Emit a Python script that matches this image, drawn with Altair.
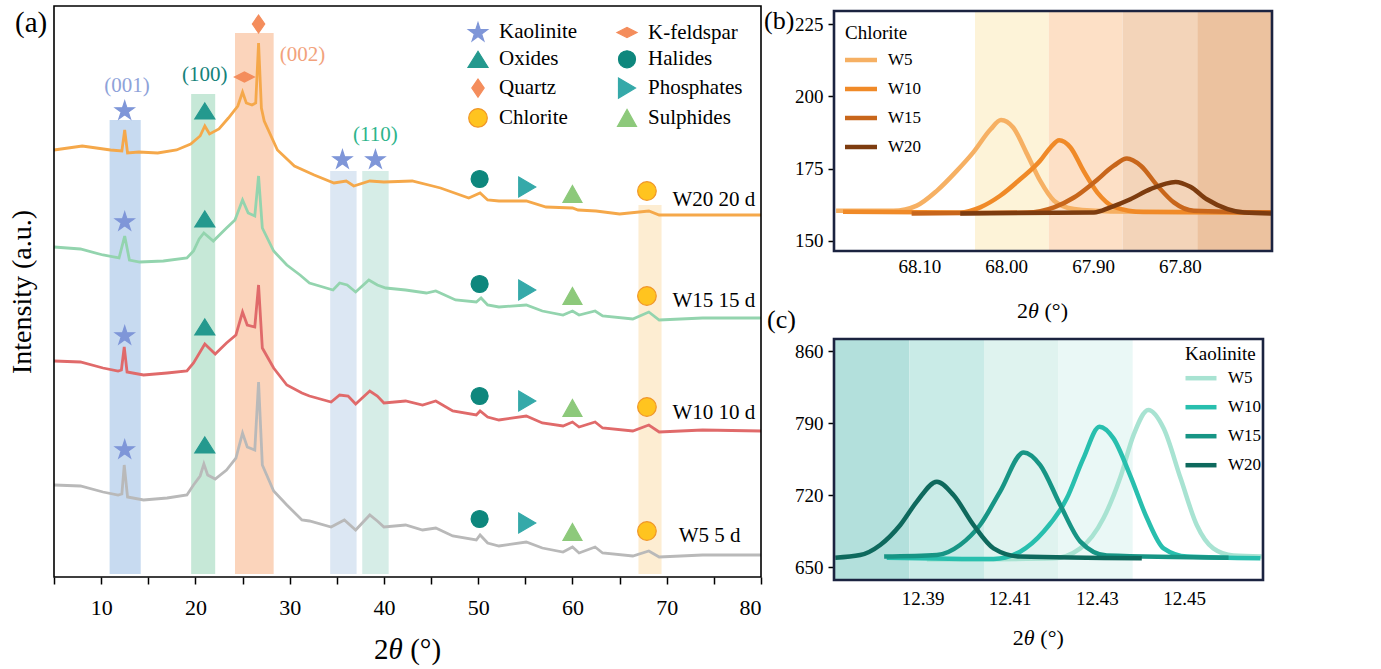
import altair as alt
import pandas as pd

SERIF = "Liberation Serif"
ONE = pd.DataFrame({"k": [0]})

# ---------------- (a) XRD patterns, offset intensity in a.u. ----------------
w20_x = [5, 6.5, 8, 9.5, 11, 12.2, 12.5, 12.8, 14, 16, 18, 19.5, 20.5, 21, 21.5, 22.5, 23.5, 24.5, 25.0, 25.4,
         26.0, 26.4, 26.7, 27.0, 27.3, 28.7, 30.5, 32.6, 34.7, 36.0, 36.8, 38.5, 40, 43, 46, 49, 50.2, 51, 52.2,
         55.1, 57.2, 60, 60.6, 62.5, 65, 68.1, 69.2, 73.1, 80]
w20_y = [427, 429, 431, 429, 427, 426, 447, 424, 425, 424, 427, 433, 441, 451, 443, 448, 459, 471, 485, 474,
         472, 474, 534, 469, 456, 427, 411, 402, 394, 396, 391, 396, 395, 396, 389, 379, 384, 377, 376,
         376, 370, 369, 367, 366, 363, 366, 362, 362, 362]

w15_x = [5, 7.8, 10.2, 11.9, 12.5, 13.0, 14.1, 16.6, 19.1, 19.8, 20.4, 20.9, 21.9, 23.3, 24.2, 25.0, 25.6, 26.3,
         26.7, 27.1, 28.3, 29.7, 31.1, 32.1, 34.6, 35.3, 36.1, 37.0, 38.4, 39.3, 40.2, 42.3, 44.5, 45.5, 47.6,
         49.8, 50.3, 51, 52.2, 55.1, 56.8, 59.0, 60, 60.7, 62.4, 63.2, 66.4, 68.1, 69.2, 73.8, 80]
w15_y = [330, 328, 322, 319, 341, 317, 315, 316, 319, 326, 338, 344, 336, 349, 357, 377, 364, 361,
         401, 349, 326, 312, 302, 294, 287, 294, 292, 285, 297, 292, 289, 287, 284, 286, 277,
         275, 279, 272, 270, 272, 266, 262, 266, 262, 266, 261, 258, 265, 257, 259, 259]

w10_x = [5, 7.8, 10.2, 11.8, 12.15, 12.45, 12.75, 14.5, 17, 19.1, 19.8, 21.0, 22.1, 23.3, 24.3, 25.0, 25.5,
         26.3, 26.7, 27.1, 28.3, 29.7, 31.3, 32.1, 34.4, 35.3, 36.2, 37.0, 38.5, 39.3, 40.0, 42.3, 44.1, 45.5,
         47.3, 49.8, 50.2, 51, 52.2, 55.1, 56.8, 59.0, 60, 60.7, 62.4, 63.2, 66.4, 68.1, 69.2, 73.8, 80]
w10_y = [216, 215, 209, 206, 207, 230, 205, 202, 204, 206, 214, 233, 223, 234, 242, 265, 252,
         250, 292, 229, 209, 192, 184, 181, 175, 182, 181, 173, 186, 181, 174, 176, 172, 176,
         166, 162, 166, 160, 157, 161, 154, 151, 155, 150, 155, 149, 146, 152, 145, 147, 146]

w5_x = [5, 7.8, 10.2, 11.8, 12.2, 12.45, 12.8, 14.5, 17, 19.1, 19.8, 20.5, 20.9, 21.3, 22.1, 23.3, 24.3, 25.0,
        25.5, 26.3, 26.7, 27.1, 28.3, 29.7, 31.3, 32.1, 34.4, 35.8, 37.0, 38.5, 39.3, 40.0, 42.3, 44.1, 45.5,
        47.3, 49.8, 50.2, 51, 52.2, 55.1, 56.8, 59.0, 60, 60.7, 62.4, 63.2, 66.4, 68.1, 69.2, 73.8, 80]
w5_y = [92, 91, 85, 82, 83, 112, 80, 77, 79, 82, 92, 101, 113, 102, 98, 107, 119, 144,
        130, 127, 195, 112, 86, 72, 57, 56, 50, 57, 47, 62, 56, 50, 52, 47, 49,
        41, 37, 42, 34, 31, 35, 29, 25, 30, 24, 30, 24, 21, 26, 20, 22, 22]

pattern_names = ["W20", "W15", "W10", "W5"]
pattern_colors = ["#f5a84a", "#93d4ae", "#e06a6a", "#b9b9b9"]

# highlighted reflection windows
band_x1 = [10.9, 19.55, 24.2, 34.3, 37.7, 67.0]
band_x2 = [14.2, 22.1, 28.3, 37.1, 40.5, 69.45]
band_top = [457, 483, 544, 406, 406, 372]
band_colors = ["#c7daf0", "#c6e8d7", "#fbd4bb", "#dce7f3", "#d6ede7", "#fdedd2"]

# phase markers
kaol_x = [12.5, 12.5, 12.5, 12.5, 35.6, 39.1]
kaol_y = [467, 356, 242, 128, 418, 418]
oxide_x = [21.0, 21.0, 21.0, 21.0]
oxide_y = [466, 358, 250, 132]
quartz_x = [26.7]
quartz_y = [553]
kfeld_x = [25.2]
kfeld_y = [500]
halide_x = [50.15, 50.15, 50.15, 50.15]
halide_y = [398, 293, 181, 58]
phos_x = [55.2, 55.2, 55.2, 55.2]
phos_y = [390, 287, 176, 54]
sulph_x = [60.0, 60.0, 60.0, 60.0]
sulph_y = [383, 281, 169, 45]
chlor_x = [67.9, 67.9, 67.9, 67.9]
chlor_y = [386, 281, 170, 46]

# legend fills column by column: left column first, then right column
mineral_order = ["Kaolinite", "Oxides", "Quartz", "Chlorite", "K-feldspar", "Halides", "Phosphates", "Sulphides"]
mineral_fill = ["#7f96d8", "#24998e", "#f48d5c", "#ffc41f", "#f48d5c", "#0e877d", "#35a9a9", "#8dc97b"]
mineral_edge = ["#7f96d8", "#24998e", "#f48d5c", "#f0962a", "#f48d5c", "#0e877d", "#35a9a9", "#8dc97b"]
STAR = ("M0,-0.905L0.2245,-0.214L0.951,-0.214L0.363,0.213L0.588,0.904L0,0.477"
        "L-0.588,0.904L-0.363,0.213L-0.951,-0.214L-0.2245,-0.214Z")
WIDE_DIAMOND = "M-1,0L0,-0.5L1,0L0,0.5Z"
TALL_DIAMOND = "M0,-0.9L0.62,0L0,0.9L-0.62,0Z"
TRI_UP = "M0,-0.8L1,0.8L-1,0.8Z"
TRI_UP_S = "M0,-0.85L0.95,0.85L-0.95,0.85Z"
TRI_RIGHT = "M-0.85,-1L0.85,0L-0.85,1Z"
DOT_S = "M0.85,0A0.85,0.85,0,1,1,-0.85,0A0.85,0.85,0,1,1,0.85,0Z"
DOT_L = "M0.93,0A0.93,0.93,0,1,1,-0.93,0A0.93,0.93,0,1,1,0.93,0Z"
mineral_shape = [STAR, TRI_UP, TALL_DIAMOND, DOT_L, WIDE_DIAMOND, DOT_S, TRI_RIGHT, TRI_UP_S]

miller_text = ["(001)", "(100)", "(002)", "(110)"]
miller_x = [12.74, 21.0, 31.35, 39.1]
miller_y = [491, 502, 522, 442]
miller_colors = ["#8ea2d9", "#15827a", "#f2a27c", "#2db48b"]

sample_text = ["W20 20 d", "W15 15 d", "W10 10 d", "W5 5 d"]
sample_x = [75.0, 75.0, 75.0, 74.55]
sample_y = [377, 276, 164, 41]

# ---------------- (b) chlorite reflection ----------------
b_names = ["W5", "W10", "W15", "W20"]
b_colors = ["#f6b063", "#f08a28", "#c8661b", "#7d3c0f"]
b_w5_x = [68.196, 68.130, 68.103, 68.080, 68.057, 68.038, 68.018, 68.006, 67.992, 67.976, 67.961, 67.945,
          67.922, 67.880, 67.695]
b_w5_y = [160.4, 160.4, 162.2, 167.3, 174.2, 180.6, 188.6, 191.8, 189.2, 180.0, 170.8, 163.9,
          161.0, 160.2, 159.8]
b_w10_x = [68.188, 68.053, 68.030, 68.007, 67.984, 67.961, 67.949, 67.939, 67.926, 67.911, 67.895, 67.876,
           67.842, 67.695]
b_w10_y = [160.1, 159.8, 161.6, 165.6, 171.3, 177.7, 182.3, 184.8, 182.3, 174.2, 166.7, 161.8,
           160.0, 159.8]
b_w15_x = [68.109, 67.976, 67.945, 67.922, 67.899, 67.876, 67.861, 67.845, 67.826, 67.807, 67.784, 67.695]
b_w15_y = [159.5, 159.8, 161.6, 165.0, 170.2, 176.0, 178.5, 176.0, 169.1, 163.3, 160.4, 159.8]
b_w20_x = [68.053, 67.899, 67.880, 67.857, 67.834, 67.805, 67.788, 67.769, 67.745, 67.726, 67.695]
b_w20_y = [159.5, 159.8, 161.6, 164.4, 167.9, 170.4, 168.7, 164.4, 161.0, 159.8, 159.5]
b_band_x1 = [68.036, 67.951, 67.866, 67.780]
b_band_x2 = [67.951, 67.866, 67.780, 67.6939]
b_band_colors = ["#fdf3d8", "#fde0c6", "#f3d4b9", "#ecc29f"]

# ---------------- (c) kaolinite reflection ----------------
c_names = ["W5", "W10", "W15", "W20"]
c_colors = ["#a8e3d2", "#28bfae", "#179585", "#0e695d"]
c_w5_x = [12.391, 12.420, 12.4262, 12.4315, 12.4353, 12.4384, 12.4418, 12.4453, 12.4492, 12.4529, 12.4567,
          12.4613, 12.4678]
c_w5_y = [657.5, 658.7, 668.4, 697.6, 736.4, 778.4, 802.7, 785.0, 736.4, 691.1, 668.4, 661.4, 660.4]
c_w10_x = [12.3818, 12.4063, 12.4124, 12.4178, 12.4231, 12.4269, 12.4306, 12.4338, 12.4376, 12.4415, 12.4453,
           12.4507, 12.4675]
c_w10_y = [659.4, 658.1, 665.2, 684.7, 717.0, 755.8, 786.6, 775.2, 739.6, 697.6, 668.4, 660.4, 658.7]
c_w15_x = [12.3812, 12.3933, 12.3986, 12.4032, 12.4078, 12.4132, 12.4170, 12.4216, 12.4262, 12.4323, 12.4602]
c_w15_y = [660.4, 661.9, 671.7, 691.1, 723.5, 761.6, 749.3, 710.5, 675.0, 661.4, 659.4]
c_w20_x = [12.370, 12.3757, 12.3803, 12.3849, 12.3887, 12.3933, 12.3971, 12.4017, 12.4063, 12.4124, 12.4403]
c_w20_y = [659.4, 661.9, 671.7, 691.1, 713.8, 733.2, 720.2, 691.1, 668.4, 660.4, 658.7]
c_band_x1 = [12.3697, 12.387, 12.4041, 12.4211]
c_band_x2 = [12.387, 12.4041, 12.4211, 12.4382]
c_band_colors = ["#b3e0dc", "#c9ebe7", "#dff3ef", "#eaf8f6"]


# ---------------- helpers ----------------
def frame(x0, y0, x1, y1, color, width):
    return alt.Chart(ONE).mark_rect(fillOpacity=0, stroke=color, strokeWidth=width).encode(
        x=alt.value(x0), x2=alt.value(x1), y=alt.value(y0), y2=alt.value(y1))


def tag(text, x, y, size):
    return alt.Chart(ONE).mark_text(text=text, font=SERIF, fontSize=size, align="left",
                                    baseline="middle", color="black").encode(x=alt.value(x), y=alt.value(y))


def two_theta(cx, cy, size):
    x0 = cx - 1.158 * size
    parts = [("2", 0.0, "normal"), ("θ", 0.5, "italic"), ("(°)", 1.25, "normal")]
    return [alt.Chart(ONE).mark_text(text=t, font=SERIF, fontSize=size, fontStyle=s, align="left",
                                     baseline="middle", color="black")
            .encode(x=alt.value(x0 + o * size), y=alt.value(cy)) for t, o, s in parts]


def long_table(names, xs_list, ys_list, colors=None):
    rows = []
    for i, (n, xs, ys) in enumerate(zip(names, xs_list, ys_list)):
        for x, y in zip(xs, ys):
            r = {"sample": n, "x": x, "y": y}
            if colors is not None:
                r["c"] = colors[i]
            rows.append(r)
    return pd.DataFrame(rows)


def peak_legend(title, lx, ly, half_len, title_pad):
    return alt.Legend(title=title, orient="none", legendX=lx, legendY=ly, padding=0,
                      titleFont=SERIF, titleFontSize=19, titleFontWeight="normal", titleColor="black",
                      titlePadding=title_pad, labelFont=SERIF, labelFontSize=17, labelColor="black",
                      symbolType=f"M-{half_len},0L{half_len},0", symbolSize=100, symbolStrokeWidth=4.5,
                      symbolOffset=7.5, labelOffset=18.5, rowPadding=10)


# ---------------- panel (a) ----------------
WA, HA = 707, 571
xa_scale = alt.Scale(domain=[5, 80], nice=False, zero=False)
ya_scale = alt.Scale(domain=[0, 571], nice=False, zero=False)
xa_axis = alt.Axis(values=list(range(5, 81, 5)), labelExpr="datum.value % 10 === 0 ? datum.label : ''",
                   labelFont=SERIF, labelFontSize=22, labelColor="black", labelPadding=13,
                   tickSize=7, tickWidth=1.5, tickColor="black", domain=False, grid=False, title=None)
ya_axis = alt.Axis(labels=False, ticks=False, domain=False, grid=False, title="Intensity (a.u.)",
                   titleFont=SERIF, titleFontSize=28, titleFontWeight="normal", titleColor="black",
                   titlePadding=18)

bands_a = pd.DataFrame({"x1": band_x1, "x2": band_x2, "top": band_top,
                        "bottom": [3] * len(band_x1), "c": band_colors})
a_bands = alt.Chart(bands_a).mark_rect().encode(
    x=alt.X("x1:Q", scale=xa_scale, axis=xa_axis), x2="x2:Q",
    y=alt.Y("top:Q", scale=ya_scale, axis=ya_axis), y2="bottom:Q",
    color=alt.Color("c:N", scale=None))

patterns = long_table(pattern_names, [w20_x, w15_x, w10_x, w5_x], [w20_y, w15_y, w10_y, w5_y], pattern_colors)
a_lines = alt.Chart(patterns).mark_line(strokeWidth=2.8).encode(
    x=alt.X("x:Q", scale=xa_scale, axis=xa_axis), y=alt.Y("y:Q", scale=ya_scale, axis=ya_axis),
    color=alt.Color("c:N", scale=None), detail="sample:N")

marker_groups = [("Kaolinite", kaol_x, kaol_y), ("Oxides", oxide_x, oxide_y), ("Quartz", quartz_x, quartz_y),
                 ("K-feldspar", kfeld_x, kfeld_y), ("Halides", halide_x, halide_y),
                 ("Phosphates", phos_x, phos_y), ("Sulphides", sulph_x, sulph_y), ("Chlorite", chlor_x, chlor_y)]
markers = pd.DataFrame([{"mineral": m, "x": x, "y": y} for m, xs, ys in marker_groups for x, y in zip(xs, ys)])
legend_a = alt.Legend(title=None, orient="none", legendX=413, legendY=14.5, columns=2, columnPadding=36,
                      rowPadding=4.8, padding=0, labelFont=SERIF, labelFontSize=21, labelColor="black",
                      labelOffset=10, symbolSize=400, symbolStrokeWidth=1.2, symbolOpacity=1)
a_marks = alt.Chart(markers).mark_point(filled=True, size=400, opacity=1, strokeWidth=1.2).encode(
    x=alt.X("x:Q", scale=xa_scale, axis=xa_axis), y=alt.Y("y:Q", scale=ya_scale, axis=ya_axis),
    shape=alt.Shape("mineral:N", scale=alt.Scale(domain=mineral_order, range=mineral_shape), legend=legend_a),
    fill=alt.Fill("mineral:N", scale=alt.Scale(domain=mineral_order, range=mineral_fill), legend=legend_a),
    stroke=alt.Stroke("mineral:N", scale=alt.Scale(domain=mineral_order, range=mineral_edge), legend=legend_a))

miller = pd.DataFrame({"t": miller_text, "x": miller_x, "y": miller_y, "c": miller_colors})
a_miller = alt.Chart(miller).mark_text(font=SERIF, fontSize=21, baseline="middle").encode(
    x=alt.X("x:Q", scale=xa_scale, axis=xa_axis), y=alt.Y("y:Q", scale=ya_scale, axis=ya_axis),
    text="t:N", color=alt.Color("c:N", scale=None))

samples = pd.DataFrame({"t": sample_text, "x": sample_x, "y": sample_y})
a_samples = alt.Chart(samples).mark_text(font=SERIF, fontSize=21, baseline="middle", color="black").encode(
    x=alt.X("x:Q", scale=xa_scale, axis=xa_axis), y=alt.Y("y:Q", scale=ya_scale, axis=ya_axis), text="t:N")

panel_a = alt.layer(a_bands, a_lines, a_marks, a_miller, a_samples, frame(0, 0, WA, HA, "black", 1.6),
                    tag("(a)", -39, 17, 29), *two_theta(353.5, 643.7, 29)).properties(width=WA, height=HA)

# ---------------- panel (b) ----------------
# the view is 5 px taller than its frame so that the frame sits a little lower than panel (a)'s
WB, HB, TOPB = 438, 245, 5
xb_scale = alt.Scale(domain=[67.6939, 68.1984], reverse=True, nice=False, zero=False)
yb_scale = alt.Scale(domain=[146.5, 231.23], nice=False, zero=False)
xb_axis = alt.Axis(values=[68.1, 68.0, 67.9, 67.8], format=".2f", labelFont=SERIF, labelFontSize=19,
                   labelColor="black", labelPadding=6, ticks=False, tickSize=0, domain=False, grid=False,
                   title=None)
yb_axis = alt.Axis(values=[150, 175, 200, 225], labelFont=SERIF, labelFontSize=19, labelColor="black",
                   labelPadding=5, tickSize=6, tickWidth=1.5, tickColor="black", domain=False, grid=False,
                   title=None)
b_bands = alt.Chart(pd.DataFrame({"x1": b_band_x1, "x2": b_band_x2, "c": b_band_colors})).mark_rect().encode(
    x=alt.X("x1:Q", scale=xb_scale, axis=xb_axis), x2="x2:Q", y=alt.value(TOPB), y2=alt.value(HB),
    fill=alt.Fill("c:N", scale=None))
b_df = long_table(b_names, [b_w5_x, b_w10_x, b_w15_x, b_w20_x], [b_w5_y, b_w10_y, b_w15_y, b_w20_y])
b_lines = alt.Chart(b_df).mark_line(strokeWidth=4.5, interpolate="monotone", clip=True).encode(
    x=alt.X("x:Q", scale=xb_scale, axis=xb_axis), y=alt.Y("y:Q", scale=yb_scale, axis=yb_axis),
    color=alt.Color("sample:N", scale=alt.Scale(domain=b_names, range=b_colors),
                    legend=peak_legend("Chlorite", 11, 12.5 + TOPB, 3.2, 9)))
panel_b = alt.layer(b_bands, b_lines, frame(0, TOPB, WB, HB, "#1b2340", 2.6),
                    tag("(b)", -70, 9.5 + TOPB, 26),
                    *two_theta(208.5, 300 + TOPB, 22)).properties(width=WB, height=HB)

# ---------------- panel (c) ----------------
WC, HC = 429, 241
xc_scale = alt.Scale(domain=[12.3697, 12.4681], nice=False, zero=False)
yc_scale = alt.Scale(domain=[637.7, 871.7], nice=False, zero=False)
xc_axis = alt.Axis(values=[12.39, 12.41, 12.43, 12.45], format=".2f", labelFont=SERIF, labelFontSize=19,
                   labelColor="black", labelPadding=9, ticks=False, tickSize=0, domain=False, grid=False,
                   title=None)
yc_axis = alt.Axis(values=[650, 720, 790, 860], labelFont=SERIF, labelFontSize=19, labelColor="black",
                   labelPadding=5, tickSize=6, tickWidth=1.5, tickColor="black", domain=False, grid=False,
                   title=None)
c_bands = alt.Chart(pd.DataFrame({"x1": c_band_x1, "x2": c_band_x2, "c": c_band_colors})).mark_rect().encode(
    x=alt.X("x1:Q", scale=xc_scale, axis=xc_axis), x2="x2:Q", y=alt.value(0), y2=alt.value(HC),
    fill=alt.Fill("c:N", scale=None))
c_df = long_table(c_names, [c_w5_x, c_w10_x, c_w15_x, c_w20_x], [c_w5_y, c_w10_y, c_w15_y, c_w20_y])
c_lines = alt.Chart(c_df).mark_line(strokeWidth=4.5, interpolate="monotone", clip=True).encode(
    x=alt.X("x:Q", scale=xc_scale, axis=xc_axis), y=alt.Y("y:Q", scale=yc_scale, axis=yc_axis),
    color=alt.Color("sample:N", scale=alt.Scale(domain=c_names, range=c_colors),
                    legend=peak_legend("Kaolinite", 351, 6.2, 3.1, 5.5)))
panel_c = alt.layer(c_bands, c_lines, frame(0, 0, WC, HC, "#1b2340", 2.6), tag("(c)", -67, -19.5, 26),
                    *two_theta(204.3, 299, 22)).properties(width=WC, height=HC)

# ---------------- layout ----------------
independent = dict(color="independent", fill="independent", stroke="independent", shape="independent")
right_col = (alt.vconcat(panel_b, panel_c, spacing=88, bounds="flush")
             .resolve_scale(**independent).resolve_legend(**independent))
chart = (alt.hconcat(panel_a, right_col, spacing=73, bounds="flush")
         .resolve_scale(**independent).resolve_legend(**independent)
         .properties(padding={"left": 8, "top": 5, "right": 4, "bottom": 4}))
chart = (chart.configure_view(stroke=None)
         .configure_axis(labelFont=SERIF, titleFont=SERIF, labelColor="black", titleColor="black")
         .configure_legend(labelFont=SERIF, titleFont=SERIF)
         .configure_text(font=SERIF))

chart.save("out.html", embed_options={"renderer": "svg", "actions": False})
